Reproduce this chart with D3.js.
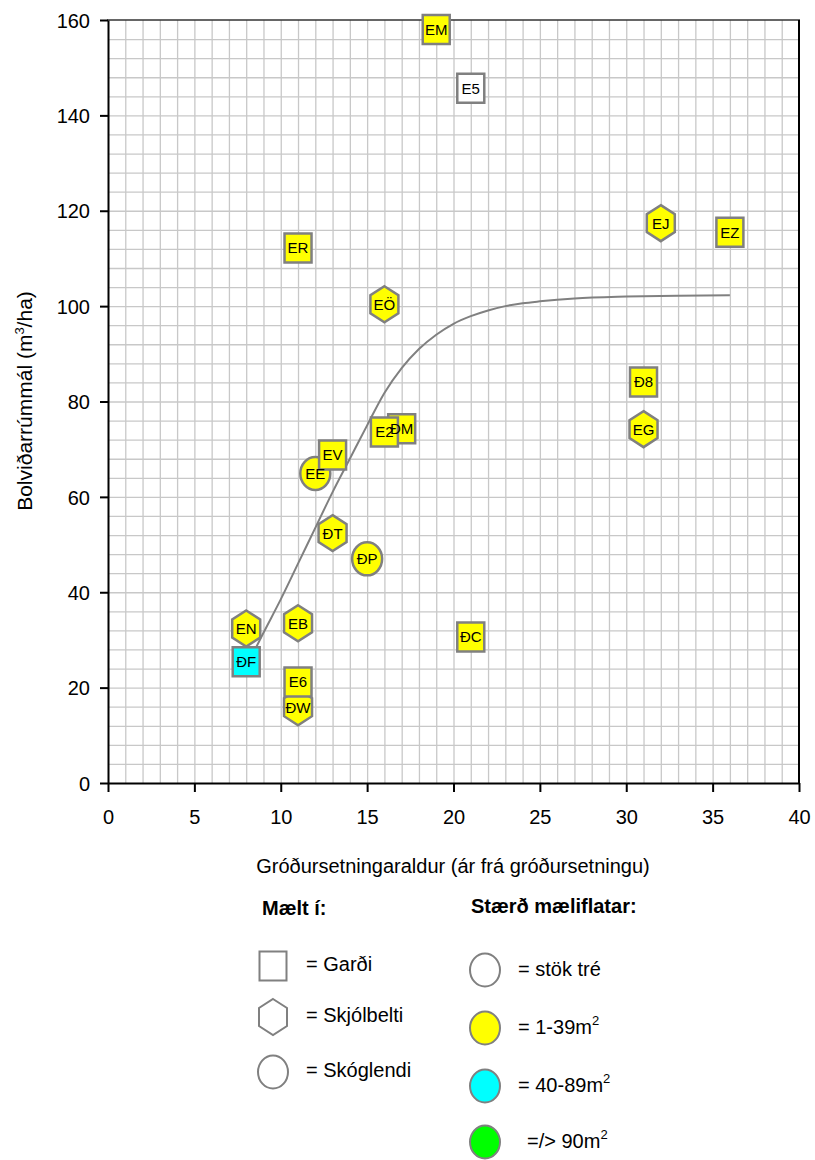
<!DOCTYPE html>
<html>
<head>
<meta charset="utf-8">
<script src="https://cdn.jsdelivr.net/npm/d3@7"></script>
<style>
body { margin: 0; background: #fff; }
text { font-family: "Liberation Sans", Arial, sans-serif; fill: #000; }
</style>
</head>
<body>
<script>
// Data (drawing order matters: later marks sit on top)
//##############################################
var labels  = ["EM", "E5", "ER", "EÖ", "EJ", "EZ", "Đ8", "EG", "ĐM", "E2", "EE", "EV", "ĐT", "ĐP", "EN", "ĐF", "EB", "ĐW", "E6", "ĐC"];
var ages    = [19, 21, 11, 16, 32, 36, 31, 31, 17, 16, 12, 13, 13, 15, 8, 8, 11, 11, 11, 21];
var volumes = [158, 145.7, 112.2, 100.4, 117.4, 115.5, 84.1, 74.2, 74.3, 73.6, 64.9, 68.8, 52.4, 47.0, 32.4, 25.4, 33.5, 15.9, 21.2, 30.6];
var shapes  = ["sq", "sq", "sq", "hex", "hex", "sq", "sq", "hex", "sq", "sq", "circ", "sq", "hex", "circ", "hex", "sq", "hex", "hex", "sq", "sq"];
var plotSizes = ["1-39", "single", "1-39", "1-39", "1-39", "1-39", "1-39", "1-39", "1-39", "1-39", "1-39", "1-39", "1-39", "1-39", "1-39", "40-89", "1-39", "1-39", "1-39", "1-39"];

// fitted curve
var curveAges    = [8.3, 9, 10, 11, 12, 13, 14, 15, 16, 17, 18, 19, 20, 21, 22, 23, 24, 25, 27, 30, 33, 36];
var curveVolumes = [26.5, 31.5, 38.5, 46, 53.5, 61, 68, 75, 81.8, 87, 91, 94, 96.3, 97.9, 99.1, 100, 100.6, 101, 101.6, 102, 102.2, 102.3];

var xTicks = [0, 5, 10, 15, 20, 25, 30, 35, 40];
var yTicks = [0, 20, 40, 60, 80, 100, 120, 140, 160];

var fillFor = {"single": "#ffffff", "1-39": "#ffff00", "40-89": "#00ffff", "90+": "#00ff00"};

var shapeLegend = [
  {shape: "sq", text: "= Garði"},
  {shape: "hex", text: "= Skjólbelti"},
  {shape: "circ", text: "= Skóglendi"}
];
var sizeLegend = [
  {size: "single", text: "= stök tré", sup: "", indent: 33},
  {size: "1-39", text: "= 1-39m", sup: "2", indent: 33},
  {size: "40-89", text: "= 40-89m", sup: "2", indent: 33},
  {size: "90+", text: "=/> 90m", sup: "2", indent: 42}
];

// Scales
//##############################################
var svg = d3.select("body").append("svg")
  .attr("width", 815)
  .attr("height", 1160);

var x = d3.scaleLinear().domain([0, 40]).range([108, 799]);
var y = d3.scaleLinear().domain([0, 160]).range([783, 20]);

// Grid
//##############################################
svg.append("g")
  .attr("transform", "translate(0,783)")
  .call(d3.axisBottom(x).tickValues(d3.range(1, 40)).tickSize(-763).tickFormat(""))
  .call(function(g) {
    g.select(".domain").remove();
    g.selectAll("line").attr("stroke", "#c8c8c8").attr("stroke-width", 1.3);
  });

svg.append("g")
  .attr("transform", "translate(108,0)")
  .call(d3.axisLeft(y).tickValues(d3.range(4, 160, 4)).tickSize(-691).tickFormat(""))
  .call(function(g) {
    g.select(".domain").remove();
    g.selectAll("line").attr("stroke", "#c8c8c8").attr("stroke-width", 1.3);
  });

// frame top and right
svg.append("line")
  .attr("x1", 107).attr("x2", 800).attr("y1", 20).attr("y2", 20)
  .attr("stroke", "#333").attr("stroke-width", 1.5);
svg.append("line")
  .attr("x1", 799).attr("x2", 799).attr("y1", 20).attr("y2", 784)
  .attr("stroke", "#000").attr("stroke-width", 2);

// Axes
//##############################################
svg.append("g")
  .attr("transform", "translate(0,783)")
  .call(d3.axisBottom(x).tickValues(xTicks).tickSize(9).tickSizeOuter(0).tickPadding(18))
  .call(function(g) {
    g.select(".domain").attr("stroke", "#000").attr("stroke-width", 2);
    g.selectAll("line").attr("stroke", "#000").attr("stroke-width", 2);
    g.selectAll("text").attr("font-size", 20).attr("font-family", "Liberation Sans, Arial, sans-serif");
  });

svg.append("g")
  .attr("transform", "translate(108,0)")
  .call(d3.axisLeft(y).tickValues(yTicks).tickSize(8).tickSizeOuter(0).tickPadding(10))
  .call(function(g) {
    g.select(".domain").attr("stroke", "#000").attr("stroke-width", 2);
    g.selectAll("line").attr("stroke", "#000").attr("stroke-width", 2);
    g.selectAll("text").attr("font-size", 20).attr("dy", "0.36em").attr("font-family", "Liberation Sans, Arial, sans-serif");
  });

svg.append("text")
  .attr("x", 453)
  .attr("y", 873)
  .attr("text-anchor", "middle")
  .attr("font-size", 20)
  .text("Gróðursetningaraldur (ár frá gróðursetningu)");

var yTitle = svg.append("text")
  .attr("transform", "translate(32,401) rotate(-90)")
  .attr("text-anchor", "middle")
  .attr("font-size", 21);
yTitle.append("tspan").text("Bolviðarrúmmál (m");
yTitle.append("tspan").attr("font-size", 13).attr("dy", -8).text("3");
yTitle.append("tspan").attr("dy", 8).text("/ha)");

// Curve
//##############################################
var curvePoints = curveAges.map(function(a, i) { return [a, curveVolumes[i]]; });

svg.append("path")
  .datum(curvePoints)
  .attr("fill", "none")
  .attr("stroke", "#808080")
  .attr("stroke-width", 2)
  .attr("d", d3.line()
    .x(function(d) { return x(d[0]); })
    .y(function(d) { return y(d[1]); })
    .curve(d3.curveMonotoneX));

// Markers
//##############################################
function shapePath(s) {
  if (s === "sq") return "M-13.5,-14.5H13.5V14.5H-13.5Z";
  if (s === "hex") return "M0,-18L14,-9L14,9L0,18L-14,9L-14,-9Z";
  // ellipse
  return "M-15,0A15,16.5 0 1,0 15,0A15,16.5 0 1,0 -15,0Z";
}

var idx = d3.range(labels.length);

svg.append("g").selectAll("path")
  .data(idx)
  .enter()
  .append("path")
  .attr("transform", function(i) { return "translate(" + x(ages[i]) + "," + y(volumes[i]) + ")"; })
  .attr("d", function(i) { return shapePath(shapes[i]); })
  .attr("fill", function(i) { return fillFor[plotSizes[i]]; })
  .attr("stroke", "#808080")
  .attr("stroke-width", 2.5);

svg.append("g").selectAll("text")
  .data(idx)
  .enter()
  .append("text")
  .attr("x", function(i) { return x(ages[i]); })
  .attr("y", function(i) { return y(volumes[i]); })
  .attr("dy", "0.36em")
  .attr("text-anchor", "middle")
  .attr("font-size", 15)
  .text(function(i) { return labels[i]; });

// Legend
//##############################################
svg.append("text")
  .attr("x", 262).attr("y", 915)
  .attr("font-size", 20).attr("font-weight", "bold")
  .text("Mælt í:");

svg.append("text")
  .attr("x", 471).attr("y", 913)
  .attr("font-size", 20).attr("font-weight", "bold")
  .text("Stærð mæliflatar:");

var shapeRows = [966, 1017, 1072];
var leg1 = svg.append("g").selectAll("g")
  .data(shapeLegend)
  .enter()
  .append("g")
  .attr("transform", function(d, i) { return "translate(273," + shapeRows[i] + ")"; });

leg1.append("path")
  .attr("d", function(d) { return shapePath(d.shape); })
  .attr("fill", "#fff")
  .attr("stroke", "#808080")
  .attr("stroke-width", 2);

leg1.append("text")
  .attr("x", 33).attr("y", 5)
  .attr("font-size", 20)
  .text(function(d) { return d.text; });

var sizeRows = [970, 1028, 1086, 1142];
var leg2 = svg.append("g").selectAll("g")
  .data(sizeLegend)
  .enter()
  .append("g")
  .attr("transform", function(d, i) { return "translate(485," + sizeRows[i] + ")"; });

leg2.append("path")
  .attr("d", shapePath("circ"))
  .attr("fill", function(d) { return fillFor[d.size]; })
  .attr("stroke", "#808080")
  .attr("stroke-width", 2);

var legText = leg2.append("text")
  .attr("x", function(d) { return d.indent; }).attr("y", 6)
  .attr("font-size", 20);
legText.append("tspan").text(function(d) { return d.text; });
legText.append("tspan")
  .attr("font-size", 13)
  .attr("dy", -9)
  .text(function(d) { return d.sup; });
</script>
</body>
</html>
